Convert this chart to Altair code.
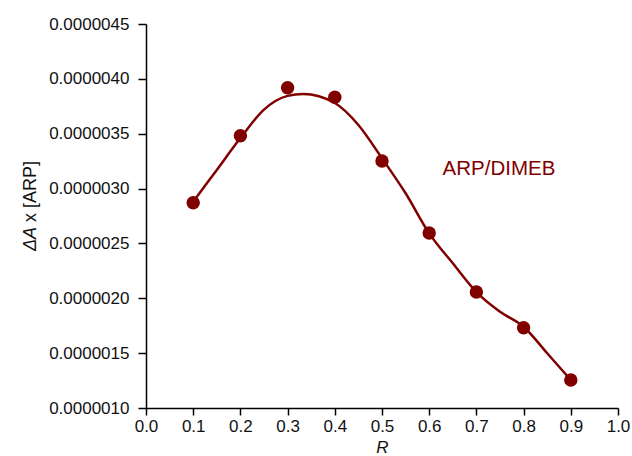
import altair as alt
import pandas as pd

# measured points
r_points = [0.1, 0.2, 0.3, 0.4, 0.5, 0.6, 0.7, 0.8, 0.9]
dA_points = [2.871e-6, 3.482e-6, 3.919e-6, 3.832e-6, 3.251e-6, 2.595e-6, 2.057e-6, 1.732e-6, 1.255e-6]

# fitted curve
r_curve = [0.1, 0.15, 0.2, 0.25, 0.3, 0.333, 0.4, 0.45, 0.5, 0.55, 0.6, 0.65, 0.7, 0.75, 0.8, 0.85, 0.9]
dA_curve = [2.88e-6, 3.17e-6, 3.46e-6, 3.72e-6, 3.845e-6, 3.862e-6, 3.78e-6, 3.58e-6, 3.276e-6,
            2.957e-6, 2.592e-6, 2.319e-6, 2.057e-6, 1.878e-6, 1.741e-6, 1.499e-6, 1.255e-6]

x_ticks = [round(i * 0.05, 2) for i in range(21)]
y_ticks = [round((10 + i * 2.5) * 1e-7, 9) for i in range(15)]

series_label = "ARP/DIMEB"
color = "#800000"
FONT = "Liberation Sans"
TXT = "#111111"

pts = pd.DataFrame({"R": r_points, "dA": dA_points})
curve = pd.DataFrame({"R": r_curve, "dA": dA_curve})

x_scale = alt.Scale(domain=[0, 1], nice=False, zero=False)
y_scale = alt.Scale(domain=[1e-6, 4.5e-6], nice=False, zero=False)

x_axis = alt.Axis(
    values=x_ticks,
    labelExpr="round(datum.value*100) % 10 == 0 ? format(datum.value, '.1f') : ''",
    tickSize={"condition": {"test": "round(datum.value*100) % 10 == 0", "value": 7}, "value": 4},
    grid=False, labelFont=FONT, labelFontSize=17, labelColor=TXT, labelPadding=3,
    labelOverlap=False, labelFlush=False,
    domainColor="black", domainWidth=1.5, tickColor="black", tickWidth=1.5,
    title="R", titleFont=FONT, titleFontSize=17, titleFontStyle="italic", titleFontWeight="normal",
    titleColor=TXT, titlePadding=5,
)
y_axis = alt.Axis(
    values=y_ticks,
    labelExpr="round(datum.value*1e7) % 5 == 0 ? format(datum.value, '.7f') : ''",
    tickSize={"condition": {"test": "round(datum.value*1e7) % 5 == 0", "value": 8}, "value": 4},
    grid=False, labelFont=FONT, labelFontSize=17, labelColor=TXT, labelPadding=9,
    labelOverlap=False, labelFlush=False,
    domainColor="black", domainWidth=1.5, tickColor="black", tickWidth=1.5,
    title=None,
)

line = alt.Chart(curve).mark_line(color=color, strokeWidth=2.5, interpolate="monotone").encode(
    x=alt.X("R:Q", scale=x_scale, axis=x_axis),
    y=alt.Y("dA:Q", scale=y_scale, axis=y_axis),
)
points = alt.Chart(pts).mark_circle(color=color, size=180, opacity=1).encode(
    x=alt.X("R:Q", scale=x_scale),
    y=alt.Y("dA:Q", scale=y_scale),
)
label = alt.Chart(pd.DataFrame({"t": [series_label]})).mark_text(
    font=FONT, fontSize=20.5, color=color, align="center", baseline="middle"
).encode(x=alt.value(353), y=alt.value(145), text="t:N")

ytitle1 = alt.Chart(pd.DataFrame({"t": ["ΔA"]})).mark_text(
    font=FONT, fontSize=18, fontStyle="italic", color=TXT, angle=270, align="left", baseline="middle"
).encode(x=alt.value(-115), y=alt.value(227), text="t:N")
ytitle2 = alt.Chart(pd.DataFrame({"t": ["x [ARP]"]})).mark_text(
    font=FONT, fontSize=18, color=TXT, angle=270, align="left", baseline="middle"
).encode(x=alt.value(-115), y=alt.value(198), text="t:N")

chart = alt.layer(line, points, label, ytitle1, ytitle2).properties(
    width=472, height=384,
    autosize=alt.AutoSizeParams(type="none"),
    padding={"left": 146, "top": 24, "right": 14, "bottom": 48},
    background="white",
).configure_view(stroke=None)

chart.save("out.html", embed_options={"renderer": "svg", "actions": False})
